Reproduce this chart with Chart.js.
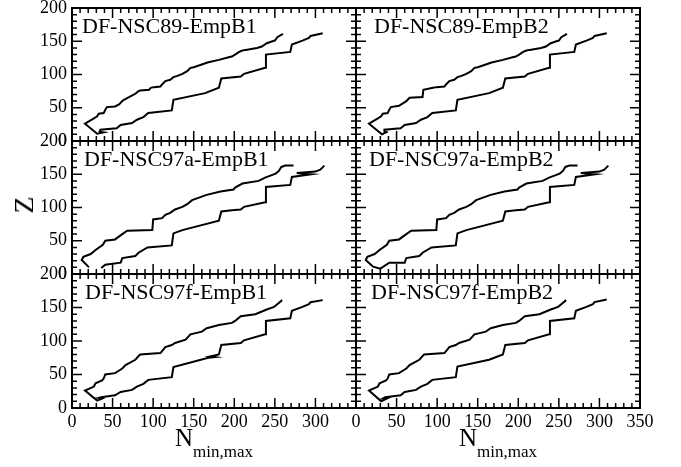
<!DOCTYPE html>
<html>
<head>
<meta charset="utf-8">
<script src="https://cdn.jsdelivr.net/npm/chart.js@4.4.1/dist/chart.umd.min.js"></script>
<style>
  body { margin: 0; background: #fff; }
  #wrap { position: relative; width: 681px; height: 467px; overflow: hidden; font-family: "Liberation Serif", serif; }
  #wrap canvas { position: absolute; left: 0; top: 0; }
  .xtitle { position: absolute; top: 425px; width: 284px; text-align: center; font-size: 25px; line-height: 1; white-space: nowrap; }
  .xtitle span { font-size: 17px; position: relative; top: 11px; }
  #ztitle { position: absolute; left: 24px; top: 205px; font-size: 28px; line-height: 1; transform: translate(-50%, -50%) rotate(-90deg); }
</style>
</head>
<body>
<div id="wrap">
  <canvas id="p0" width="681" height="467"></canvas>
  <canvas id="p1" width="681" height="467"></canvas>
  <canvas id="p2" width="681" height="467"></canvas>
  <canvas id="p3" width="681" height="467"></canvas>
  <canvas id="p4" width="681" height="467"></canvas>
  <canvas id="p5" width="681" height="467"></canvas>
  <div class="xtitle" style="left:72px">N<span>min,max</span></div>
  <div class="xtitle" style="left:356px">N<span>min,max</span></div>
  <div id="ztitle">Z</div>
</div>
<script>
// Axis ticks
const nTicks = [0, 50, 100, 150, 200, 250, 300, 350];
const zTicks = [0, 50, 100, 150, 200];
const minorStep = 10;

const panelNames = ['DF-NSC89-EmpB1', 'DF-NSC89-EmpB2', 'DF-NSC97a-EmpB1', 'DF-NSC97a-EmpB2', 'DF-NSC97f-EmpB1', 'DF-NSC97f-EmpB2'];

// Drip lines as [N, Z] pairs, listed from low Z up
const left89B1 = [[16,26],[27,34],[31,37],[33,41],[39,42],[41,47],[43,51],[53,52],[58,55],[62,60],[64,62],[72,67],[78,71],[82,75],[84,76],[95,77],[97,80],[101,81],[109,82],[111,85],[115,90],[121,92],[125,96],[130,98],[136,101],[142,105],[146,110],[150,111],[160,115],[167,118],[181,122],[193,126],[197,127],[201,130],[206,134],[210,136],[214,137],[228,140],[234,142],[240,147],[247,150],[250,151],[253,156],[260,161]];
const left89B2 = [[16,26],[27,34],[31,37],[33,41],[39,42],[41,47],[43,51],[53,53],[62,60],[66,65],[82,66],[83,77],[95,80],[99,81],[109,82],[111,85],[115,90],[121,92],[125,96],[130,98],[136,101],[142,105],[146,110],[150,111],[160,115],[167,118],[181,122],[193,126],[197,127],[201,130],[206,134],[210,136],[214,137],[228,140],[234,142],[240,147],[247,150],[250,151],[253,156],[260,161]];
const left97a = [[12,21],[14,26],[23,30],[29,36],[38,44],[41,50],[53,52],[62,60],[68,65],[99,66],[100,82],[111,84],[115,89],[121,92],[127,97],[136,101],[142,105],[148,111],[166,119],[183,124],[199,127],[201,130],[210,136],[230,140],[238,145],[251,151],[255,155],[258,161],[263,163],[273,163]];
const left97f = [[16,26],[27,32],[29,37],[37,41],[39,44],[41,50],[53,52],[62,59],[66,64],[78,72],[84,80],[109,82],[111,85],[115,91],[123,94],[127,97],[140,102],[146,110],[160,114],[166,119],[181,124],[197,127],[201,130],[208,137],[226,140],[240,147],[249,151],[253,155],[259,161]];

const right89 = [[35,17],[55,19],[60,24],[74,27],[80,32],[88,36],[94,42],[123,46],[125,62],[164,72],[181,80],[184,94],[208,97],[212,101],[238,110],[239,130],[269,134],[271,145],[284,151],[292,155],[294,158],[309,162]];
const right97a = [[60,17],[62,24],[78,27],[82,32],[93,40],[123,43],[125,61],[136,66],[181,80],[184,94],[197,96],[208,97],[212,101],[238,108],[239,131],[269,134],[271,146],[295,150],[277,152],[300,154],[306,157],[311,163]];
const right97fB1 = [[36,16],[53,19],[60,24],[74,27],[80,32],[88,36],[94,42],[123,46],[125,61],[168,75],[176,76],[170,77],[181,80],[184,94],[208,97],[212,101],[238,110],[239,130],[269,134],[271,145],[284,151],[292,155],[294,158],[309,161]];

// Low-Z ends joining the two lines
const foot89B1 = [[31,11],[39,13],[34,14]];
const foot89B2 = [[32,10],[39,14],[35,12]];
const tail97aB1 = [[21,10]];
const foot97aB1 = [[36,9],[41,14]];
const foot97aB2 = [[21,11],[30,8],[41,17]];
const foot97fB1 = [[31,11],[37,14],[33,15]];
const foot97fB2 = [[31,10],[38,14],[33,14],[36,16]];

const down = arr => arr.slice().reverse();

const panelPaths = [
  [[...down(left89B1), ...foot89B1, ...right89]],
  [[...down(left89B2), ...foot89B2, ...right89]],
  [[...down(left97a), ...tail97aB1], [...foot97aB1, ...right97a]],
  [[...down(left97a), ...foot97aB2, ...right97a]],
  [[...down(left97f), ...foot97fB1, ...right97fB1]],
  [[...down(left97f), ...foot97fB2, ...right89.slice(1)]]
];

const colLeft = [72, 356];
const rowTop = [8, 141, 274];
const rowHeight = [133, 133, 134];
const plotWidth = 284;
const yAxisWidth = 50;
const xAxisHeight = 25;

Chart.defaults.font.family = '"Liberation Serif", serif';
Chart.defaults.color = '#000';

// Frame with inward ticks on all four sides
const frameTicks = {
  id: 'frameTicks',
  afterDraw(chart) {
    const { ctx, chartArea: a, scales: { x, y } } = chart;
    ctx.save();
    ctx.strokeStyle = '#000';
    ctx.lineWidth = 1.5;
    ctx.beginPath();
    for (let v = x.min; v <= x.max; v += minorStep) {
      const px = x.getPixelForValue(v);
      const len = nTicks.includes(v) ? 10 : 5;
      ctx.moveTo(px, a.bottom); ctx.lineTo(px, a.bottom - len);
      ctx.moveTo(px, a.top); ctx.lineTo(px, a.top + len);
    }
    for (let v = y.min; v <= y.max; v += minorStep) {
      const py = y.getPixelForValue(v);
      const len = zTicks.includes(v) ? 10 : 5;
      ctx.moveTo(a.left, py); ctx.lineTo(a.left + len, py);
      ctx.moveTo(a.right, py); ctx.lineTo(a.right - len, py);
    }
    ctx.stroke();
    ctx.lineWidth = 2;
    ctx.strokeRect(a.left, a.top, a.right - a.left, a.bottom - a.top);
    ctx.restore();
  }
};

const panelLabel = {
  id: 'panelLabel',
  afterDraw(chart, args, opts) {
    const { ctx, chartArea: a } = chart;
    ctx.save();
    ctx.font = '22px "Liberation Serif"';
    ctx.fillStyle = '#000';
    ctx.textBaseline = 'alphabetic';
    ctx.fillText(opts.text, a.left + opts.dx, a.top + 25);
    ctx.restore();
  }
};

const labelOffset = [10, 18, 12, 13, 13, 15];

panelPaths.forEach((paths, i) => {
  const row = Math.floor(i / 2), col = i % 2;
  const L = colLeft[col], T = rowTop[row], H = rowHeight[row];
  const showX = row === 2, showY = col === 0;

  new Chart(document.getElementById('p' + i), {
    type: 'scatter',
    data: {
      datasets: paths.map(p => ({
        data: p.map(([n, z]) => ({ x: n, y: z })),
        showLine: true,
        pointRadius: 0,
        borderColor: '#000',
        borderWidth: 2,
        tension: 0
      }))
    },
    options: {
      responsive: false,
      animation: false,
      events: [],
      layout: {
        padding: {
          left: L - yAxisWidth,
          right: 681 - (L + plotWidth),
          top: T,
          bottom: 467 - (T + H) - xAxisHeight
        }
      },
      plugins: {
        legend: { display: false },
        tooltip: { enabled: false },
        panelLabel: { text: panelNames[i], dx: labelOffset[i] }
      },
      scales: {
        x: {
          type: 'linear',
          min: 0,
          max: 350,
          afterBuildTicks: s => { s.ticks = nTicks.map(v => ({ value: v })); },
          afterFit: s => { s.height = xAxisHeight; s.paddingLeft = s.paddingRight = 0; },
          grid: { display: false, drawTicks: false },
          border: { display: false },
          ticks: {
            display: showX,
            autoSkip: false,
            maxRotation: 0,
            padding: 3,
            font: { size: 18 },
            callback: v => (col === 0 && v === 350) ? '' : v
          }
        },
        y: {
          type: 'linear',
          min: 0,
          max: 200,
          afterBuildTicks: s => { s.ticks = zTicks.map(v => ({ value: v })); },
          afterFit: s => { s.width = yAxisWidth; s.paddingTop = s.paddingBottom = 0; },
          grid: { display: false, drawTicks: false },
          border: { display: false },
          ticks: {
            display: showY,
            autoSkip: false,
            padding: 5,
            font: { size: 18 }
          }
        }
      }
    },
    plugins: [frameTicks, panelLabel]
  });
});
</script>
</body>
</html>
